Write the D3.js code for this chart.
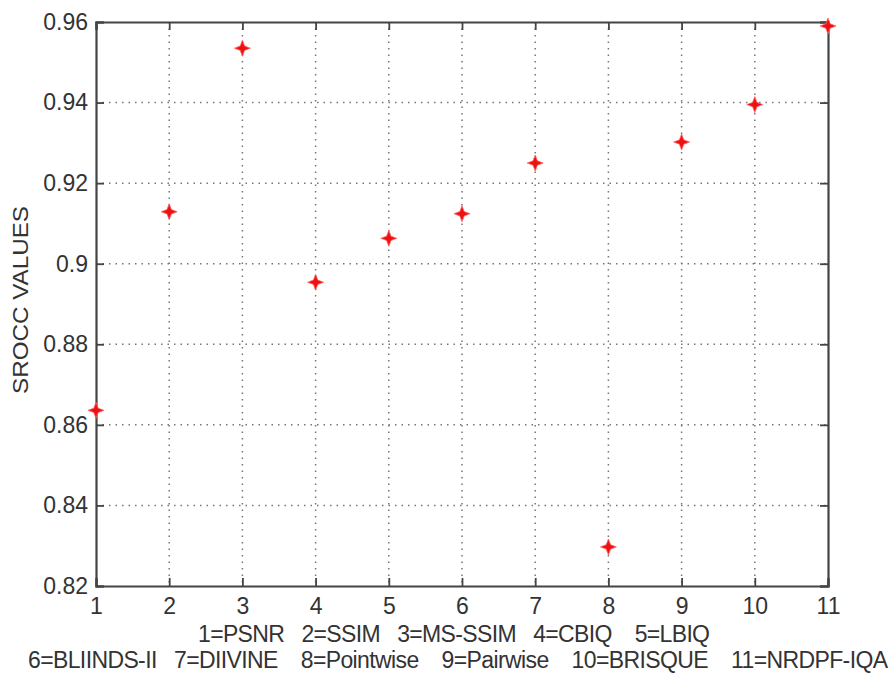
<!DOCTYPE html>
<html><head><meta charset="utf-8">
<script src="https://cdn.jsdelivr.net/npm/d3@7"></script>
<style>body{margin:0;background:#fff}text{font-family:"Liberation Sans",Arial,sans-serif;fill:#333}</style>
</head><body><svg id="c" width="896" height="675"></svg>
<script>
const methods = [1,2,3,4,5,6,7,8,9,10,11];
const srocc = [0.8636,0.9129,0.9535,0.8954,0.9063,0.9124,0.9250,0.8297,0.9302,0.9395,0.9590];
const xTicks = [1,2,3,4,5,6,7,8,9,10,11];
const yTicks = [0.82,0.84,0.86,0.88,0.90,0.92,0.94,0.96];
const yTickLabels = ["0.82","0.84","0.86","0.88","0.9","0.92","0.94","0.96"];
const captionLine1 = "1=PSNR   2=SSIM   3=MS-SSIM   4=CBIQ    5=LBIQ";
const captionLine2 = "6=BLIINDS-II   7=DIIVINE    8=Pointwise    9=Pairwise    10=BRISQUE    11=NRDPF-IQA";
const yLabel = "SROCC VALUES";

const svg = d3.select("#c");
const L=96, R=828, T=22, B=586;
const x = d3.scaleLinear().domain([1,11]).range([L,R]);
const y = d3.scaleLinear().domain([0.82,0.96]).range([B,T]);

// grid
const g = svg.append("g");
g.selectAll(".vg").data(xTicks.slice(1,-1)).enter().append("line")
  .attr("x1",d=>x(d)).attr("x2",d=>x(d)).attr("y1",T).attr("y2",B)
  .attr("stroke","#777").attr("stroke-width",1.5).attr("stroke-dasharray","1.5 5");
g.selectAll(".hg").data(yTicks.slice(1,-1)).enter().append("line")
  .attr("y1",d=>y(d)).attr("y2",d=>y(d)).attr("x1",L).attr("x2",R)
  .attr("stroke","#777").attr("stroke-width",1.5).attr("stroke-dasharray","1.5 5");

// axes with inward ticks
const fmt = d=>yTickLabels[yTicks.indexOf(d)];
const ax = svg.append("g").attr("transform",`translate(0,${B})`)
  .call(d3.axisBottom(x).tickValues(xTicks).tickSize(-8).tickPadding(12).tickFormat(d3.format("d")));
const ay = svg.append("g").attr("transform",`translate(${L},0)`)
  .call(d3.axisLeft(y).tickValues(yTicks).tickSize(-8).tickPadding(8).tickFormat(fmt));
const at = svg.append("g").attr("transform",`translate(0,${T})`)
  .call(d3.axisTop(x).tickValues(xTicks).tickSize(-8).tickFormat(""));
const ar = svg.append("g").attr("transform",`translate(${R},0)`)
  .call(d3.axisRight(y).tickValues(yTicks).tickSize(-8).tickFormat(""));
[ax,ay,at,ar].forEach(a=>{
  a.selectAll("path").attr("stroke","#444").attr("stroke-width",2.2);
  a.selectAll("line").attr("stroke","#444").attr("stroke-width",1.8);
  a.selectAll("text").style("font-size","23px").style("fill","#333");
});

// points
const star = "M0,-8 L2.2,-2.2 L8,0 L2.2,2.2 L0,8 L-2.2,2.2 L-8,0 L-2.2,-2.2 Z";
svg.append("g").selectAll("path").data(methods).enter().append("path")
  .attr("d",star).attr("transform",(d,i)=>`translate(${x(d)},${y(srocc[i])})`)
  .attr("fill","#ee1111").attr("stroke","#ff6666").attr("stroke-width",0.8);

// labels
svg.append("text").attr("transform","translate(28,300) rotate(-90)")
  .attr("text-anchor","middle").attr("textLength",188).attr("lengthAdjust","spacingAndGlyphs")
  .style("font-size","22px").text(yLabel);
svg.append("text").attr("x",198).attr("y",642).attr("textLength",512)
  .attr("lengthAdjust","spacing").style("font-size","23px").style("white-space","pre").text(captionLine1);
svg.append("text").attr("x",28).attr("y",668).attr("textLength",860)
  .attr("lengthAdjust","spacing").style("font-size","23px").style("white-space","pre").text(captionLine2);
</script></body></html>
